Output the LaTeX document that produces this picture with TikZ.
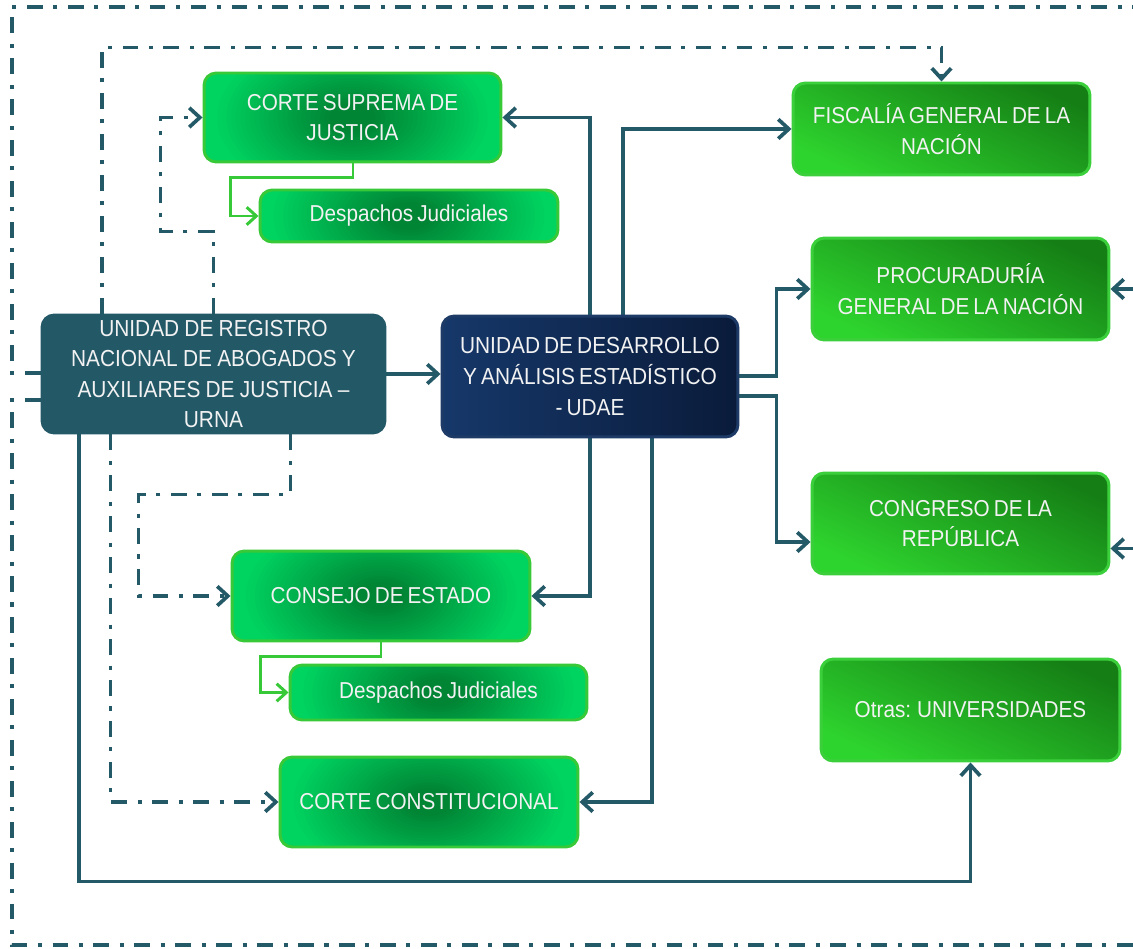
\documentclass[tikz,border=0pt]{standalone}
\usepackage{fontspec}
\setmainfont{Liberation Sans}[FakeStretch=0.9,WordSpace=0.7]
\newfontfamily\urnafont{Liberation Sans}[FakeStretch=0.9,WordSpace=0.9]
\usetikzlibrary{arrows.meta,calc,backgrounds}
\definecolor{lnk}{HTML}{245A68}
\definecolor{urnafill}{HTML}{235867}
\definecolor{udaeL}{HTML}{16386A}
\definecolor{udaeR}{HTML}{0A1B3A}
\definecolor{udaeline}{HTML}{1D3B66}
\definecolor{gdark}{HTML}{008535}
\definecolor{gbright}{HTML}{00D460}
\definecolor{gline}{HTML}{38C938}
\definecolor{rdark}{HTML}{157F15}
\definecolor{rbright}{HTML}{2ED42E}
\definecolor{rline}{HTML}{3CCF3C}
\definecolor{txt}{HTML}{F2F2F2}
\tikzset{
  basebox/.style={rounded corners=7pt, text=txt, align=center, inner sep=0pt,
    line width=1.7pt, font=\fontsize{13.1}{17.5}\selectfont},
  gbox/.style={basebox, draw=gline, fill=gbright,
    path picture={\foreach \gi in {1,...,29}{%
      \pgfmathsetmacro\grx{0.569*140*(1-\gi/30)}%
      \pgfmathsetmacro\gry{0.6*\grx}%
      \pgfmathtruncatemacro\gpct{min(100,\gi*4)}%
      \fill[gdark!\gpct!gbright] (path picture bounding box.center)
        ellipse [x radius=\grx pt, y radius=\gry pt];}}},
  rbox/.style={basebox, draw=rline, top color=rdark, bottom color=rbright, shading angle=-25},
  urnabox/.style={basebox, draw=urnafill, fill=urnafill,
    font=\urnafont\fontsize{13.2}{17.3}\selectfont},
  udaebox/.style={basebox, draw=udaeline, left color=udaeL, right color=udaeR,
    font=\fontsize{13.2}{17.5}\selectfont},
  conn/.style={draw=lnk, line width=2.1pt, -{Straight Barb[length=6pt,width=11pt]}},
  dd/.style={draw=lnk, line width=2.1pt, dash pattern=on 9pt off 6pt on 2.3pt off 6pt},
  dda/.style={dd, -{Straight Barb[length=6pt,width=11pt]}},
  gconn/.style={draw=gline, line width=1.7pt, -{Straight Barb[length=5.5pt,width=10pt]}}
}
\begin{document}
\begin{tikzpicture}[x=0.02cm,y=-0.02cm]
\useasboundingbox (0,0) rectangle (1133,949);
\coordinate (tl) at (12,7);
\coordinate (bl) at (12,945);

\node[gbox, minimum width=5.94cm, minimum height=1.78cm] (cs) at (352.5,117.5) {CORTE SUPREMA DE\\JUSTICIA};
\node[gbox, minimum width=5.96cm, minimum height=1.04cm] (dj1) at (409,216) {Despachos Judiciales};
\node[rbox, minimum width=5.94cm, minimum height=1.84cm] (fis) at (941.5,129) {FISCALÍA GENERAL DE LA\\NACIÓN};
\node[rbox, minimum width=5.94cm, minimum height=2.04cm] (pro) at (960.5,289) {PROCURADURÍA\\GENERAL DE LA NACIÓN};
\node[urnabox, minimum width=6.86cm, minimum height=2.36cm] (urna) at (213.5,374) {UNIDAD DE REGISTRO\\NACIONAL DE ABOGADOS Y\\AUXILIARES DE JUSTICIA –\\URNA};
\node[udaebox, minimum width=5.92cm, minimum height=2.42cm] (udae) at (590,376.5) {UNIDAD DE DESARROLLO\\Y ANÁLISIS ESTADÍSTICO\\- UDAE};
\node[rbox, minimum width=5.94cm, minimum height=2.02cm] (con) at (960.5,523.5) {CONGRESO DE LA\\REPÚBLICA};
\node[gbox, minimum width=5.96cm, minimum height=1.8cm] (ce) at (381,596) {CONSEJO DE ESTADO};
\node[gbox, minimum width=5.94cm, minimum height=1.1cm] (dj2) at (438.5,692.5) {Despachos Judiciales};
\node[rbox, minimum width=5.98cm, minimum height=2.04cm] (otr) at (970.5,710) {Otras: UNIVERSIDADES};
\node[gbox, minimum width=5.96cm, minimum height=1.8cm] (cc) at (429,802) {CORTE CONSTITUCIONAL};

\begin{pgfonlayer}{background}
% solid connectors from UDAE
\draw[conn] (udae.north) |- (cs.east);
\draw[conn] ($(udae.north)+(33,0)$) |- (fis.west);
\draw[conn] ($(udae.east)+(0,-0.5)$) -- ++(37,0) |- (pro.west);
\draw[conn] ($(udae.east)+(0,19.5)$) -- ++(37,0) |- ($(con.west)+(0,18.5)$);
\draw[conn] (udae.south) |- (ce.east);
\draw[conn] ($(udae.south)+(62,0)$) |- (cc.east);
% solid connectors from URNA
\draw[conn] (urna.east) -- (urna.east -| udae.west);
\draw[conn] ($(urna.south)+(-134.5,0)$) |- ($(otr.south)+(0,119)$) -- (otr.south);
% dash-dot connectors from URNA
\draw[dda] ($(urna.north)+(-111.5,0)$) |- ($(fis.north)+(0,-34)$) -- (fis.north);
\draw[dda] (urna.north) -- ++(0,-82) -| ($(cs.west)+(-42,0)$) -- (cs.west);
\draw[dda] ($(urna.south)+(77,0)$) -- ++(0,60) -| ($(ce.west)+(-92,0)$) -- (ce.west);
\draw[dda] ($(urna.south)+(-103,0)$) |- (cc.west);
\draw[dd] ($(urna.west)+(0,-1)$) -| (tl) -| ($(pro.east)+(60,0)$) coordinate (pr);
\draw[conn] (pr) -- (pro.east);
\draw[dd] ($(urna.west)+(0,26)$) -| (bl) -| ($(con.east)+(60,25)$) coordinate (cr);
\draw[conn] (cr) -- (cr -| con.east);
% green connectors
\draw[gconn] ($(cs.south)+(0.5,0)$) -- ++(0,14) -| ($(dj1.west)+(-28,0)$) -- (dj1.west);
\draw[gconn] (ce.south) -- ++(0,14) -| ($(dj2.west)+(-28,0)$) -- (dj2.west);
\end{pgfonlayer}
\end{tikzpicture}
\end{document}
